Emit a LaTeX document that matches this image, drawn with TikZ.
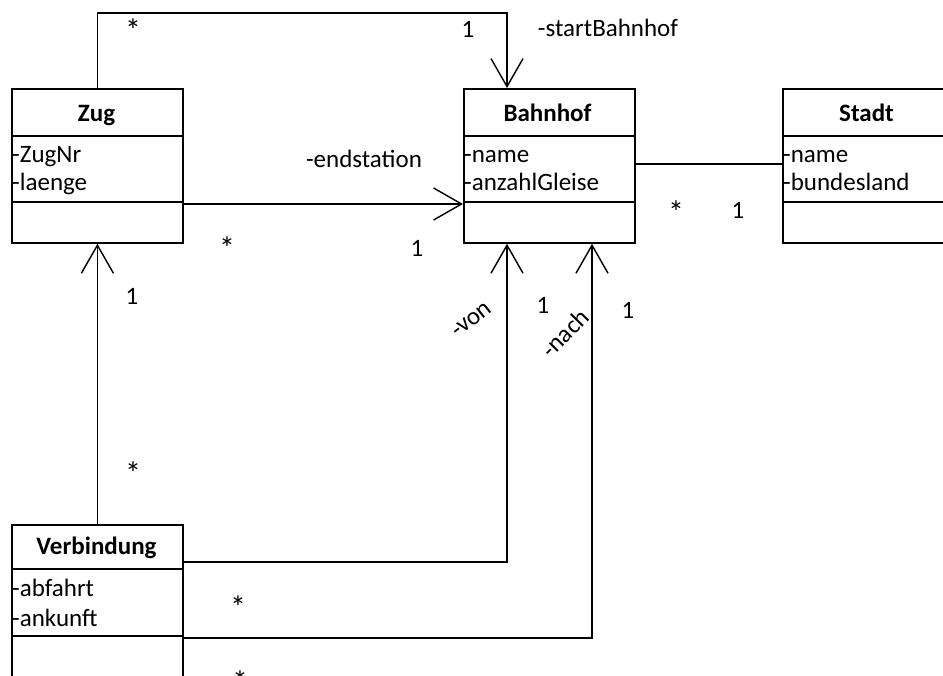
\documentclass[tikz,border=0pt]{standalone}
\usepackage{fontspec}
\setmainfont{Carlito}
\usetikzlibrary{arrows.meta,calc}
\begin{document}
\begin{tikzpicture}[x=1pt,y=-1pt,
  classbox/.style={draw,line width=1.8pt,minimum width=171pt,minimum height=154pt,anchor=north west,inner sep=0pt},
  divline/.style={line width=1.8pt},
  assoc/.style={line width=1.2pt},
  navarrow/.style={assoc,-{Straight Barb[length=28pt,width=32pt,line width=1.4pt]}},
  title/.style={font=\fontsize{25}{30}\selectfont\bfseries,anchor=base,inner sep=0pt},
  attr/.style={font=\fontsize{25}{30}\selectfont,anchor=base west,inner sep=0pt,align=left},
  lbl/.style={font=\fontsize{25}{30}\selectfont,inner sep=0pt},
  star/.style={font=\fontsize{32}{36}\selectfont,inner sep=0pt}]
\useasboundingbox (0,0) rectangle (943,676);
\clip (0,0) rectangle (943,676);
% classes
\node[classbox] (zug) at (11,88) {};
\node[classbox] (bahnhof) at (463,88) {};
\node[classbox,minimum width=169pt] (stadt) at (782,88) {};
\node[classbox] (verb) at (11,524) {};
% dividers
\foreach \b in {zug,bahnhof,stadt}{
  \draw[divline] ($(\b.north west)+(0,48)$) -- ($(\b.north east)+(0,48)$);
  \draw[divline] ($(\b.north west)+(0,114)$) -- ($(\b.north east)+(0,114)$);
}
\draw[divline] ($(verb.north west)+(0,45)$) -- ($(verb.north east)+(0,45)$);
\draw[divline] ($(verb.north west)+(0,112)$) -- ($(verb.north east)+(0,112)$);
% texts
\node[title] (tzug) at (96.5,122) {Zug};
\node[title] (tbahn) at (547.5,122) {Bahnhof};
\node[title] (tstadt) at (866.5,122) {Stadt};
\node[title] (tverb) at (96.5,554) {Verbindung};
\node[attr] (a1) at (12,163) {-ZugNr};
\node[attr] (a2) at (12,191) {-laenge};
\node[attr] (a3) at (464,163) {-name};
\node[attr] (a4) at (464,191) {-anzahlGleise};
\node[attr] (a5) at (783,163) {-name};
\node[attr] (a6) at (783,191) {-bundesland};
\node[attr] (a7) at (12,596) {-abfahrt};
\node[attr] (a8) at (12,626) {-ankunft};
% connectors
\draw[navarrow] (zug.north) |- ($(bahnhof.north west)+(44,-75)$) -- ($(bahnhof.north west)+(44,0)$);
\draw[navarrow] ($(zug.north east)+(0,116)$) -- ($(bahnhof.north west)+(0,116)$);
\draw[assoc] ($(bahnhof.north east)+(0,76)$) -- ($(stadt.north west)+(0,76)$);
\draw[navarrow] (verb.north) -- (zug.south);
\draw[navarrow] ($(verb.north east)+(0,38)$) -| ($(bahnhof.south west)+(44,0)$);
\draw[navarrow] ($(verb.north east)+(0,114)$) -| ($(bahnhof.south west)+(129,0)$);
% labels
\node[star] (m1) at (133,30) {*};
\node[lbl] (m2) at (468,29) {1};
\node[lbl] (r1) at (608,28) {-startBahnhof};
\node[lbl] (r2) at (364,159) {-endstation};
\node[star] (m3) at (227,248) {*};
\node[lbl] (m4) at (417,248) {1};
\node[star] (m5) at (676,212) {*};
\node[lbl] (m6) at (738,210) {1};
\node[lbl] (m7) at (132,296) {1};
\node[star] (m8) at (133,473) {*};
\node[lbl] (m9) at (543,305) {1};
\node[lbl] (m10) at (628,310) {1};
\node[lbl,rotate=38] (r3) at (472,320) {-von};
\node[lbl,rotate=45] (r4) at (565,333) {-nach};
\node[star] (m11) at (238,607) {*};
\node[star] (m12) at (240,682) {*};
\end{tikzpicture}
\end{document}
